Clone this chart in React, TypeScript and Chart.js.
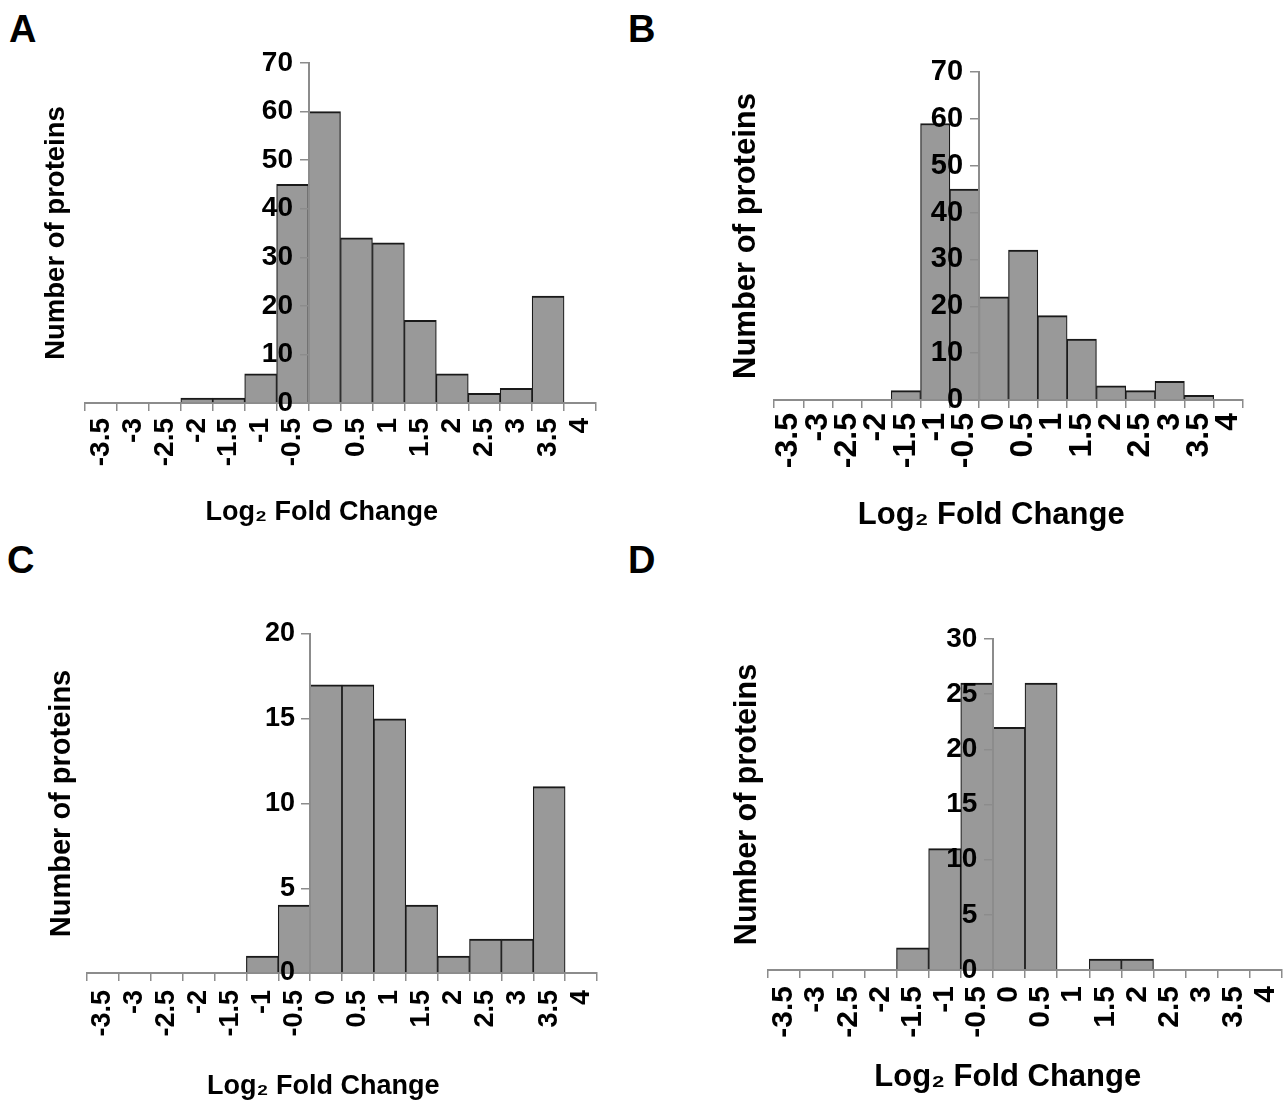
import React, { useEffect, useRef } from 'react';
import { Chart, registerables } from 'chart.js';

Chart.register(...registerables);

// ---- data ----
const categories = ['-3.5', '-3', '-2.5', '-2', '-1.5', '-1', '-0.5', '0', '0.5', '1', '1.5', '2', '2.5', '3', '3.5', '4'];
const countsA = [0, 0, 0, 1, 1, 6, 45, 60, 34, 33, 17, 6, 2, 3, 22, 0];
const countsB = [0, 0, 0, 0, 2, 59, 45, 22, 32, 18, 13, 3, 2, 4, 1, 0];
const countsC = [0, 0, 0, 0, 0, 1, 4, 17, 17, 15, 4, 1, 2, 2, 11, 0];
const countsD = [0, 0, 0, 0, 2, 11, 26, 22, 26, 0, 1, 1, 0, 0, 0, 0];
const yMaxes = [70, 70, 20, 30];
const ySteps = [10, 10, 5, 5];
const panelLetters = ['A', 'B', 'C', 'D'];
const xTitle = 'Log₂ Fold Change';
const yTitle = 'Number of proteins';
// y axis crosses between the "-0.5" and "0" categories
const crossAt = categories.indexOf('0') - 0.5;

const FONT = "'Liberation Sans', Arial, Helvetica, sans-serif";
const AXIS = '#8c8c8c';
const BAR_FILL = '#999999';
const BAR_EDGE = '#1a1a1a';
const GAP = '\u00A0\u00A0';

type Panel = {
  data: number[];
  yMax: number;
  yStep: number;
  letter: string;
  letterPos: [number, number];
  left: number; top: number; width: number; height: number;
  padTop: number; padRight: number;
  yTitleWidth: number; xAxisHeight: number;
  yTick: number; xTick: number; yTitleSize: number; xTitleSize: number;
  xTickPad: number; shift: number;
};

const panels: Panel[] = [
  { data: countsA, yMax: yMaxes[0], yStep: ySteps[0], letter: panelLetters[0], letterPos: [9, 10],
    left: 43, top: 40, width: 578, height: 486, padTop: 23, padRight: 25, yTitleWidth: 42, xAxisHeight: 123,
    yTick: 28, xTick: 28, yTitleSize: 27.5, xTitleSize: 27, xTickPad: 7, shift: 5 },
  { data: countsB, yMax: yMaxes[1], yStep: ySteps[1], letter: panelLetters[1], letterPos: [628, 10],
    left: 731, top: 45, width: 537, height: 486, padTop: 27, padRight: 25, yTitleWidth: 43, xAxisHeight: 131,
    yTick: 29, xTick: 32, yTitleSize: 31, xTitleSize: 31, xTickPad: 5, shift: 4 },
  { data: countsC, yMax: yMaxes[2], yStep: ySteps[2], letter: panelLetters[2], letterPos: [7, 541],
    left: 47, top: 610, width: 575, height: 490, padTop: 24, padRight: 25, yTitleWidth: 40, xAxisHeight: 127,
    yTick: 27, xTick: 27, yTitleSize: 29, xTitleSize: 27, xTickPad: 9, shift: 5 },
  { data: countsD, yMax: yMaxes[3], yStep: ySteps[3], letter: panelLetters[3], letterPos: [628, 541],
    left: 732, top: 612, width: 553, height: 481, padTop: 27, padRight: 3, yTitleWidth: 36, xAxisHeight: 123,
    yTick: 28, xTick: 30, yTitleSize: 30.5, xTitleSize: 31, xTickPad: 8, shift: 4 },
];

function Histogram({ p }: { p: Panel }) {
  const ref = useRef<HTMLCanvasElement>(null);
  useEffect(() => {
    const font = (size: number, lh = 1.2) => ({ family: FONT, weight: 'bold' as const, size, lineHeight: lh });
    const chart = new Chart(ref.current!, {
      type: 'bar',
      data: {
        labels: categories,
        datasets: [{
          data: p.data,
          backgroundColor: BAR_FILL,
          borderColor: BAR_EDGE,
          borderWidth: { top: 2, left: 1.2, right: 1.2, bottom: 0 },
          borderSkipped: false,
          barPercentage: 1,
          categoryPercentage: 1,
          xAxisID: 'x',
          yAxisID: 'y',
        }],
      },
      options: {
        responsive: false,
        animation: false,
        events: [],
        layout: { padding: { left: 0, right: p.padRight, top: p.padTop, bottom: 0 } },
        plugins: { legend: { display: false }, tooltip: { enabled: false }, title: { display: false } },
        scales: {
          x: {
            type: 'category',
            offset: true,
            grid: { display: true, drawOnChartArea: false, drawTicks: true, tickLength: 8, color: AXIS, lineWidth: 1.5, offset: true },
            border: { display: true, color: AXIS, width: 2 },
            ticks: { autoSkip: false, maxRotation: 90, minRotation: 90, padding: p.xTickPad, color: '#000', font: font(p.xTick) },
            title: { display: true, text: xTitle + '\u00A0'.repeat(p.shift), color: '#000', font: font(p.xTitleSize, 1), padding: 0 },
            afterFit: (s: any) => { s.height = p.xAxisHeight; s.paddingLeft = 0; s.paddingRight = 0; },
          },
          y: {
            type: 'linear',
            axis: 'y',
            position: { x: crossAt } as any,
            min: 0,
            max: p.yMax,
            grid: { display: true, drawOnChartArea: false, drawTicks: true, tickLength: 8, color: AXIS, lineWidth: 1.5, z: 1 },
            border: { display: true, color: AXIS, width: 2, z: 1 },
            ticks: {
              stepSize: p.yStep, padding: 6, color: '#000', font: font(p.yTick), z: 1,
              callback: (v: any) => String(v) + GAP,
            },
            afterFit: (s: any) => { s.width = 0; s.paddingTop = 0; s.paddingBottom = 0; },
          },
          y2: {
            type: 'linear',
            axis: 'y',
            position: 'left',
            grid: { display: false },
            border: { display: false },
            ticks: { display: false },
            title: { display: true, text: yTitle, color: '#000', font: font(p.yTitleSize, 1), padding: 0 },
            afterFit: (s: any) => { s.width = p.yTitleWidth; s.paddingTop = 0; s.paddingBottom = 0; },
          },
        },
      } as any,
    });
    return () => chart.destroy();
  }, [p]);
  return (
    <canvas
      ref={ref}
      width={p.width}
      height={p.height}
      style={{ position: 'absolute', left: p.left, top: p.top, width: p.width, height: p.height }}
    />
  );
}

export default function App() {
  return (
    <div style={{ position: 'absolute', left: 0, top: 0, width: 1286, height: 1102, overflow: 'hidden', background: '#fff' }}>
      {panels.map((p) => (
        <React.Fragment key={p.letter}>
          <div style={{ position: 'absolute', left: p.letterPos[0], top: p.letterPos[1], fontFamily: FONT, fontWeight: 'bold', fontSize: 38, lineHeight: 1, color: '#000' }}>
            {p.letter}
          </div>
          <Histogram p={p} />
        </React.Fragment>
      ))}
    </div>
  );
}
